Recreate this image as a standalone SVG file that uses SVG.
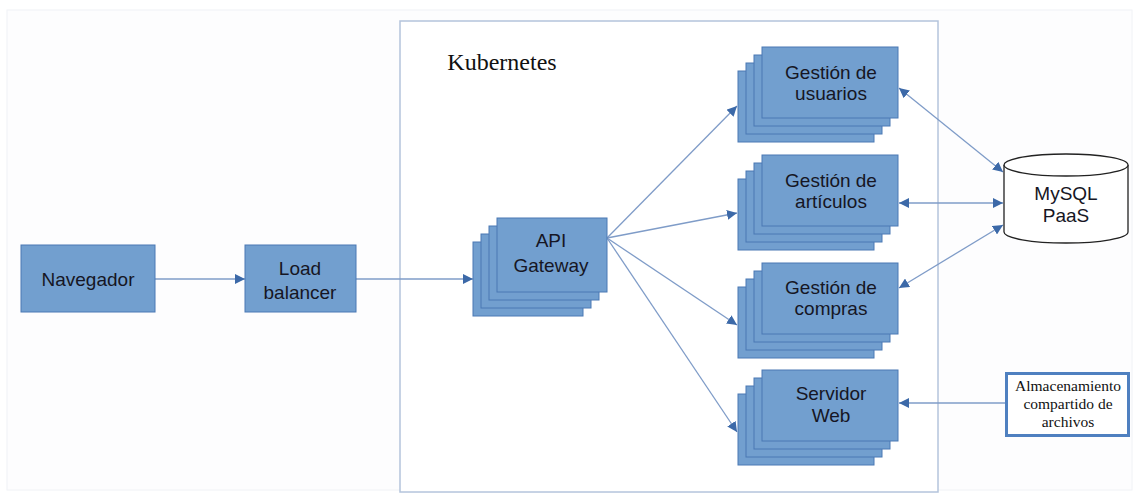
<svg xmlns="http://www.w3.org/2000/svg" width="1138" height="494" viewBox="0 0 1138 494">
<defs>
<style>
.n{fill:#729fcf;stroke:#4a78b4;stroke-width:1}
.t{font-family:"Liberation Sans",Arial,sans-serif;font-size:19px;fill:#161624;text-anchor:middle}
.s{font-family:"Liberation Serif","Times New Roman",serif;fill:#111;text-anchor:middle}
.c{stroke:#7f9cc8;stroke-width:1.3;fill:none}
</style>
<marker id="a" viewBox="0 0 10 10" refX="10" refY="5" markerWidth="10" markerHeight="10" markerUnits="userSpaceOnUse" orient="auto-start-reverse">
<path d="M0,0 L10,5 L0,10 Z" fill="#3c69a8"/>
</marker>
<g id="stack">
<rect class="n" x="0" y="24" width="136" height="71"/>
<rect class="n" x="8" y="16" width="136" height="71"/>
<rect class="n" x="16" y="8" width="136" height="71"/>
<rect class="n" x="24" y="0" width="136" height="71"/>
</g>
</defs>
<rect x="0" y="0" width="1138" height="494" fill="#ffffff"/>
<rect x="7" y="10" width="1125" height="480" fill="#fdfdfe" stroke="#f0f2f6" stroke-width="1"/>
<rect id="kubernetes" x="400" y="21" width="538" height="471" fill="#ffffff" stroke="#b4c4dc" stroke-width="1.5"/>
<text class="s" x="502" y="70" font-size="24">Kubernetes</text>

<g id="connectors">
<line class="c" x1="155" y1="279" x2="245" y2="279" marker-end="url(#a)"/>
<line class="c" x1="356" y1="279" x2="473" y2="279" marker-end="url(#a)"/>
<line class="c" x1="607" y1="238" x2="737" y2="106" marker-end="url(#a)"/>
<line class="c" x1="607" y1="238" x2="737" y2="213" marker-end="url(#a)"/>
<line class="c" x1="607" y1="238" x2="737" y2="325" marker-end="url(#a)"/>
<line class="c" x1="607" y1="238" x2="737" y2="432" marker-end="url(#a)"/>
<line class="c" x1="899" y1="88" x2="1003" y2="172" marker-start="url(#a)" marker-end="url(#a)"/>
<line class="c" x1="899" y1="203" x2="1003" y2="203" marker-start="url(#a)" marker-end="url(#a)"/>
<line class="c" x1="899" y1="288" x2="1003" y2="225" marker-start="url(#a)" marker-end="url(#a)"/>
<line class="c" x1="1005" y1="403" x2="899" y2="403" marker-end="url(#a)"/>
</g>

<g id="navegador">
<rect class="n" x="21" y="245" width="134" height="67"/>
<text class="t" x="88" y="286">Navegador</text>
</g>
<g id="load-balancer">
<rect class="n" x="245" y="245" width="111" height="67"/>
<text class="t" x="300" y="275">Load</text>
<text class="t" x="300" y="299">balancer</text>
</g>
<g id="api-gateway">
<rect class="n" x="473" y="242" width="110" height="74"/>
<rect class="n" x="481" y="234" width="110" height="74"/>
<rect class="n" x="489" y="226" width="110" height="74"/>
<rect class="n" x="497" y="218" width="110" height="74"/>
<text class="t" x="551" y="247">API</text>
<text class="t" x="551" y="272">Gateway</text>
</g>
<g id="gestion-usuarios">
<use href="#stack" x="738" y="47"/>
<text class="t" x="831" y="79">Gestión de</text>
<text class="t" x="831" y="100">usuarios</text>
</g>
<g id="gestion-articulos">
<use href="#stack" x="738" y="155"/>
<text class="t" x="831" y="187">Gestión de</text>
<text class="t" x="831" y="208">artículos</text>
</g>
<g id="gestion-compras">
<use href="#stack" x="738" y="263"/>
<text class="t" x="831" y="294">Gestión de</text>
<text class="t" x="831" y="315">compras</text>
</g>
<g id="servidor-web">
<use href="#stack" x="738" y="370"/>
<text class="t" x="831" y="400">Servidor</text>
<text class="t" x="831" y="422">Web</text>
</g>
<g id="mysql">
<path d="M1004,165 L1004,232 A62,11 0 0 0 1128,232 L1128,165" fill="#ffffff" stroke="#222" stroke-width="1.3"/>
<ellipse cx="1066" cy="165" rx="62" ry="11" fill="#ffffff" stroke="#222" stroke-width="1.3"/>
<text class="t" x="1066" y="200">MySQL</text>
<text class="t" x="1066" y="222">PaaS</text>
</g>
<g id="almacenamiento">
<rect x="1006.5" y="373.5" width="122" height="62" fill="#ffffff" stroke="#4f80c0" stroke-width="3"/>
<text class="s" x="1068" y="391" font-size="15.5">Almacenamiento</text>
<text class="s" x="1068" y="409" font-size="15.5">compartido de</text>
<text class="s" x="1068" y="427" font-size="15.5">archivos</text>
</g>
</svg>
